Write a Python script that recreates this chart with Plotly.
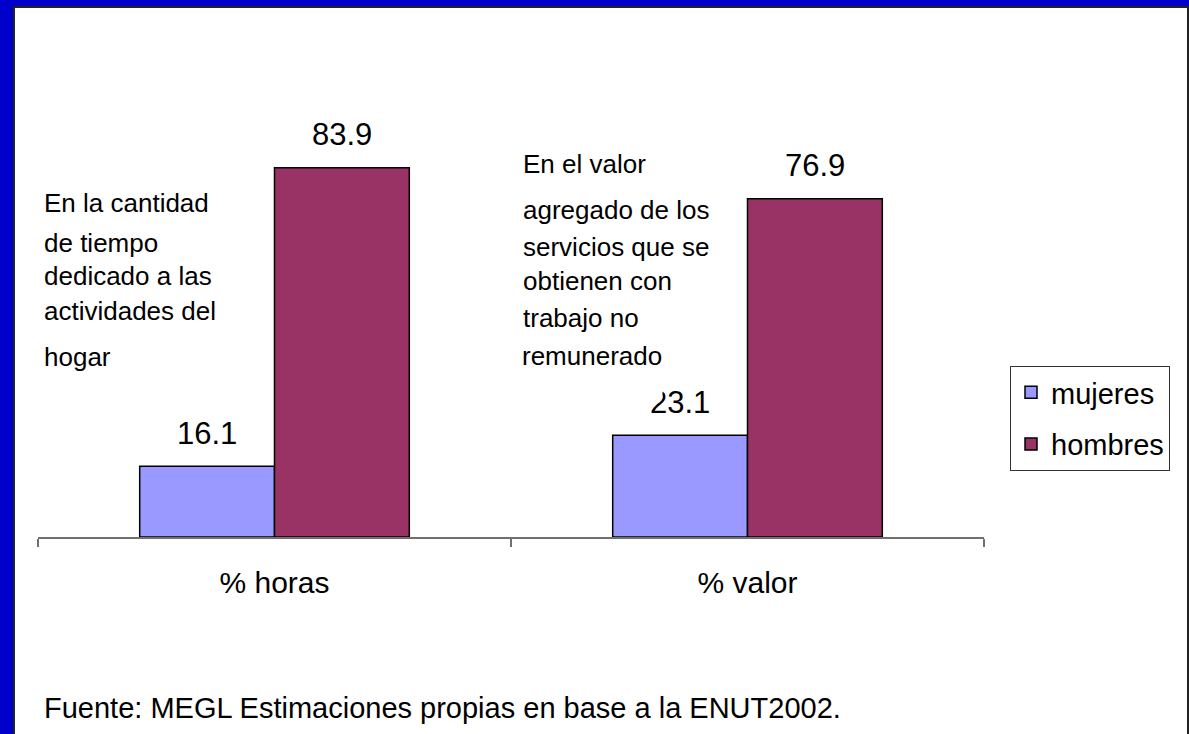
import plotly.graph_objects as go

categories = ["% horas", "% valor"]
mujeres = [16.1, 23.1]
hombres = [83.9, 76.9]
series_names = ["mujeres", "hombres"]
note_left = ["En la cantidad", "de tiempo", "dedicado a las", "actividades del", "hogar"]
note_right = ["En el valor", "agregado de los", "servicios que se", "obtienen con", "trabajo no", "remunerado"]
source = "Fuente: MEGL Estimaciones propias en base a la ENUT2002."

W, H = 1189, 734
L, R, T, B = 38, 984, 97, 537
FONT = "Liberation Sans, Arial, sans-serif"


def px(x):
    return (x - L) / (R - L)


def py(y):
    return (B - y) / (B - T)


fig = go.Figure()
fig.add_trace(go.Bar(x=categories, y=mujeres, name=series_names[0], legendgroup="a",
                     marker=dict(color="#9999FF", line=dict(color="black", width=1.5))))
fig.add_trace(go.Bar(x=categories, y=hombres, name=series_names[1], legendgroup="b",
                     marker=dict(color="#993366", line=dict(color="black", width=1.5))))

annotations = []
# value labels
for vals, shift in ((mujeres, -67.5), (hombres, 67.5)):
    for c, v in zip(categories, vals):
        annotations.append(dict(x=c, y=v, xref="x", yref="y", text=f"{v:.1f}", showarrow=False,
                                xshift=shift, yshift=33, yanchor="middle",
                                font=dict(size=31, color="black", family=FONT)))

# white box for the last line of the right note (covers the top of 23.1 as in the reference)
annotations.append(dict(x=px(521), y=py(340), xref="paper", yref="paper", text=note_right[-1],
                        showarrow=False, xanchor="left", yanchor="top", align="left",
                        height=57, valign="top", bgcolor="white", borderpad=0,
                        font=dict(size=26, color="black", family=FONT)))

left_y = [203, 243, 276, 311, 357]
for t, yy in zip(note_left, left_y):
    annotations.append(dict(x=px(42), y=py(yy), xref="paper", yref="paper", text=t,
                            showarrow=False, xanchor="left", yanchor="middle", align="left",
                            font=dict(size=26, color="black", family=FONT)))
right_y = [164, 210, 247, 281, 318]
for t, yy in zip(note_right[:-1], right_y):
    annotations.append(dict(x=px(521), y=py(yy), xref="paper", yref="paper", text=t,
                            showarrow=False, xanchor="left", yanchor="middle", align="left",
                            font=dict(size=26, color="black", family=FONT)))

annotations.append(dict(x=px(42), y=py(708), xref="paper", yref="paper", text=source,
                        showarrow=False, xanchor="left", yanchor="middle", align="left",
                        font=dict(size=29, color="black", family=FONT)))

shapes = [
    dict(type="rect", xref="paper", yref="paper", x0=px(0), x1=px(13), y0=py(0), y1=py(H),
         fillcolor="#0000CC", line=dict(width=0), layer="above"),
    dict(type="rect", xref="paper", yref="paper", x0=px(0), x1=px(W), y0=py(0), y1=py(6),
         fillcolor="#0000CC", line=dict(width=0), layer="above"),
    dict(type="line", xref="paper", yref="paper", x0=px(14), x1=px(14), y0=py(6), y1=py(H),
         line=dict(color="#222222", width=2), layer="above"),
    dict(type="line", xref="paper", yref="paper", x0=px(13), x1=px(W), y0=py(7), y1=py(7),
         line=dict(color="#222222", width=2), layer="above"),
    dict(type="line", xref="paper", yref="paper", x0=px(1188), x1=px(1188), y0=py(6), y1=py(H),
         line=dict(color="#222222", width=2), layer="above"),
]

fig.update_layout(
    width=W, height=H,
    margin=dict(l=L, r=W - R, t=T, b=H - B, pad=0),
    paper_bgcolor="white", plot_bgcolor="white",
    barmode="group", bargap=0.43, bargroupgap=0,
    font=dict(family=FONT, color="black"),
    xaxis=dict(type="category", showline=True, linecolor="#707070", linewidth=1.5,
               ticks="outside", tickson="boundaries", ticklen=8, tickcolor="#707070", tickwidth=1.5,
               tickfont=dict(size=30, color="black", family=FONT), ticklabelstandoff=18,
               showgrid=False, zeroline=False),
    yaxis=dict(range=[0, 100], visible=False, showgrid=False, zeroline=False),
    legend=dict(x=px(1010), y=py(366), xanchor="left", yanchor="top",
                bordercolor="#333333", borderwidth=1, bgcolor="white",
                font=dict(size=29, color="black", family=FONT),
                traceorder="grouped", tracegroupgap=11, itemwidth=30),
    annotations=annotations,
    shapes=shapes,
    showlegend=True,
)

fig.write_html("out.html", config={"displayModeBar": False},
               post_script="document.body.style.margin='0';document.body.style.overflow='hidden';")
